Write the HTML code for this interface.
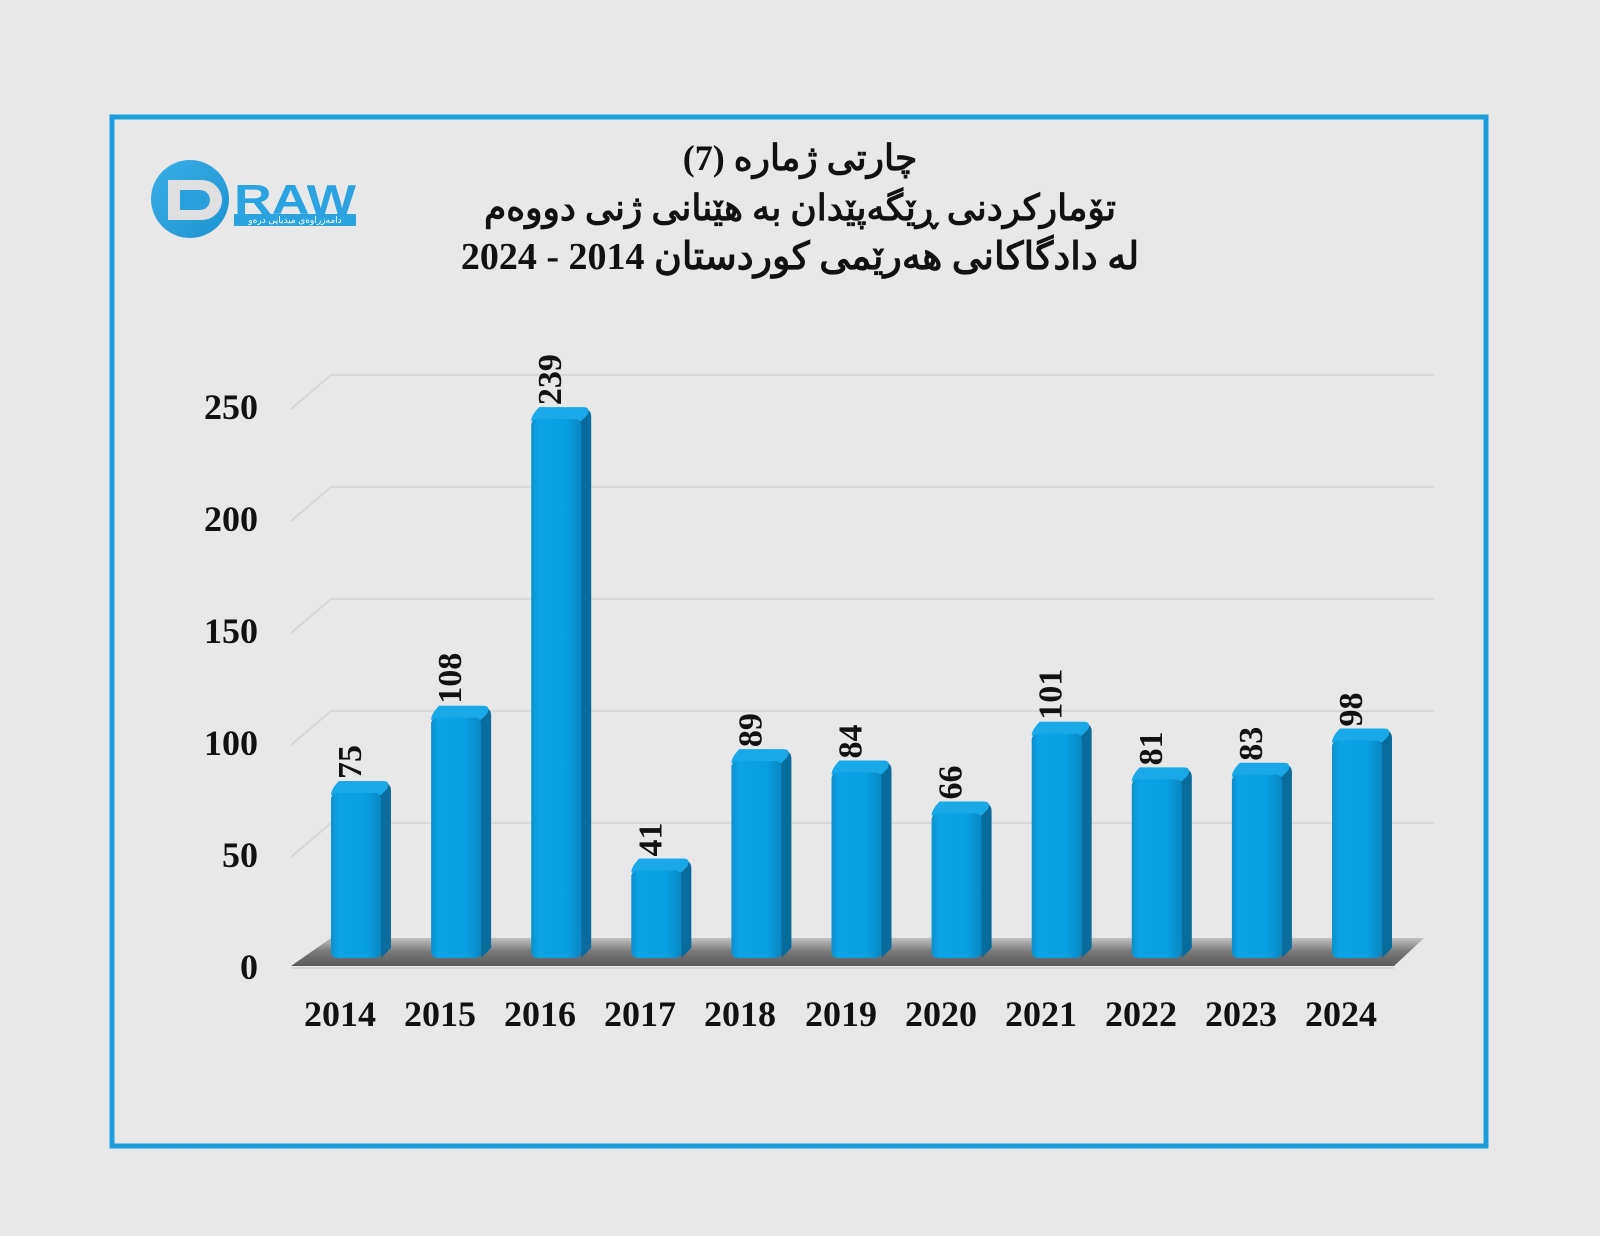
<!DOCTYPE html>
<html><head><meta charset="utf-8"><style>
html,body{margin:0;padding:0;background:#e8e8e8;}
svg{display:block;}
</style></head><body>
<svg width="1600" height="1236" viewBox="0 0 1600 1236" xmlns="http://www.w3.org/2000/svg">
<defs>
<linearGradient id="front" x1="0" x2="1" y1="0" y2="0">
<stop offset="0" stop-color="#0d8fcc"/><stop offset="0.15" stop-color="#0aa4e6"/><stop offset="0.7" stop-color="#07a0e2"/><stop offset="1" stop-color="#0a86c2"/>
</linearGradient>
<linearGradient id="floor" x1="0" x2="0" y1="0" y2="1">
<stop offset="0" stop-color="#bdbdbd"/><stop offset="0.5" stop-color="#6a6a6a"/><stop offset="1" stop-color="#4a4a4a"/>
</linearGradient>
<linearGradient id="circ" x1="0" x2="1" y1="0" y2="1">
<stop offset="0" stop-color="#3aaee6"/><stop offset="1" stop-color="#1c93d2"/>
</linearGradient>
</defs>
<rect x="0" y="0" width="1600" height="1236" fill="#e8e8e8"/>
<rect x="112" y="117" width="1374" height="1029" fill="none" stroke="#1a9fdb" stroke-width="5"/>

<!-- logo -->
<circle cx="190" cy="199" r="39" fill="url(#circ)"/>
<path d="M168 180 h34 a20 20 0 0 1 20 20 a20 20 0 0 1 -20 20 h-34 z" fill="#e0e0e0"/>
<path d="M180 190 h20 a10 10 0 0 1 0 20 h-20 z" fill="#2a9fde"/>
<text x="234" y="214" font-family="Liberation Sans, sans-serif" font-weight="bold" font-size="42" fill="#2aa3e0" textLength="122" lengthAdjust="spacingAndGlyphs">RAW</text>
<rect x="234" y="214" width="122" height="12" fill="#2aa3e0"/>
<text x="295" y="223" text-anchor="middle" font-family="Liberation Sans, DejaVu Sans, sans-serif" font-size="9" fill="#fff">دامەزراوەی میدیایی درەو</text>

<!-- title -->
<g font-family="Liberation Serif, DejaVu Serif, serif" font-weight="bold" fill="#111" text-anchor="middle">
<text x="800" y="170" font-size="36">چارتی ژمارە (7)</text>
<text x="800" y="220" font-size="36">تۆمارکردنی ڕێگەپێدان بە هێنانی ژنی دووەم</text>
<text x="800" y="269" font-size="38" direction="rtl">لە دادگاکانی هەرێمی کوردستان 2014 - 2024</text>
</g>

<!-- gridlines -->
<g stroke="#d2d2d2" stroke-width="1.5" fill="none">
<path d="M291 409 L331 375 H1434"/>
<path d="M291 521 L331 487 H1434"/>
<path d="M291 633 L331 599 H1434"/>
<path d="M291 745 L331 711 H1434"/>
<path d="M291 857 L331 823 H1434"/>
</g>
<!-- floor -->
<path d="M291 966 L331 938 H1424 L1394 966 Z" fill="url(#floor)" opacity="0.9"/>
<path d="M291 968 H1394" stroke="#d6d6d6" stroke-width="2"/>

<!-- y labels -->
<g font-family="Liberation Serif, serif" font-weight="bold" font-size="36" fill="#111" text-anchor="end">
<text x="258" y="419">250</text>
<text x="258" y="531">200</text>
<text x="258" y="643">150</text>
<text x="258" y="755">100</text>
<text x="258" y="867">50</text>
<text x="258" y="979">0</text>
</g>

<!-- bars -->
<g id="bars"></g>
<g font-family="Liberation Serif, serif" font-weight="bold" font-size="36" fill="#111" text-anchor="middle">
<text x="340" y="1026">2014</text><text x="440" y="1026">2015</text><text x="540" y="1026">2016</text><text x="640" y="1026">2017</text><text x="740" y="1026">2018</text><text x="841" y="1026">2019</text><text x="941" y="1026">2020</text><text x="1041" y="1026">2021</text><text x="1141" y="1026">2022</text><text x="1241" y="1026">2023</text><text x="1341" y="1026">2024</text>
</g>
<g id="vals" font-family="Liberation Serif, serif" font-weight="bold" font-size="34" fill="#111"></g>
</svg>
<script>
var v=[75,108,239,41,89,84,66,101,81,83,98];
var b=document.getElementById('bars'),t=document.getElementById('vals');
v.forEach(function(d,i){
 var cx=361+i*100.1,x=cx-30,top=958-d*2.28,bot=958;
 var s='<path d="M'+(x+47)+' '+(top+4)+' L'+(x+53)+' '+(top-4)+' Q'+(x+60)+' '+(top-4)+' '+(x+60)+' '+(top+4)+' V'+(bot-10)+' L'+(x+50)+' '+bot+' Z" fill="#086c9c"/>';
 s+='<path d="M'+(x+8)+' '+(top-6)+' L'+(x+52)+' '+(top-6)+' Q'+(x+60)+' '+(top-6)+' '+(x+56)+' '+(top+2)+' L'+(x+50)+' '+(top+8)+' H'+x+' Q'+x+' '+(top+2)+' '+(x+8)+' '+(top-6)+' Z" fill="#19a8e8"/>';
 s+='<rect x="'+x+'" y="'+(top+6)+'" width="50" height="'+(bot-top-6)+'" rx="6" fill="url(#front)"/>';
 b.insertAdjacentHTML('beforeend',s);
 t.insertAdjacentHTML('beforeend','<text transform="translate('+(cx)+','+(top-8)+') rotate(-90)">'+d+'</text>');
});
</script>
</body></html>
